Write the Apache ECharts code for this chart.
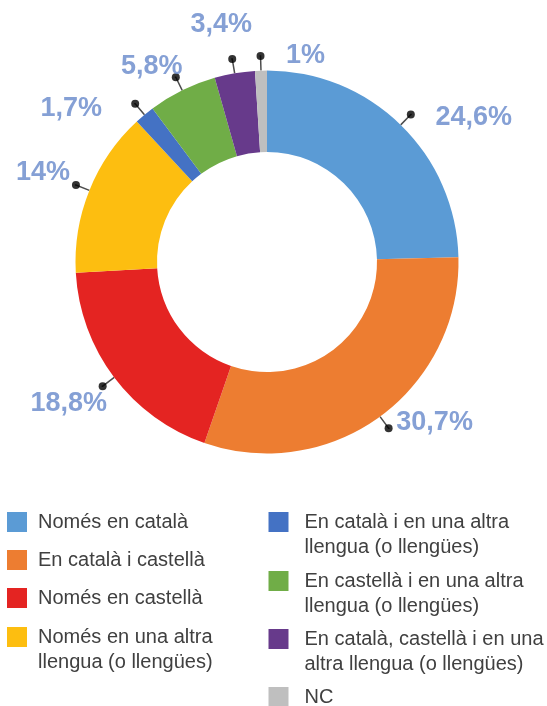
<!DOCTYPE html>
<html>
<head>
<meta charset="utf-8">
<script src="https://cdn.jsdelivr.net/npm/echarts@6/dist/echarts.min.js"></script>
<style>
  html, body { margin: 0; padding: 0; background: #fff; }
  #chart { width: 547px; height: 706px; }
</style>
</head>
<body>
<div id="chart"></div>
<script>
// Language of the answers (percentages, clockwise from 12 o'clock)
const categories = [
  'Només en català',
  'En català i castellà',
  'Només en castellà',
  'Només en una altra llengua (o llengües)',
  'En català i en una altra llengua (o llengües)',
  'En castellà i en una altra llengua (o llengües)',
  'En català, castellà i en una altra llengua (o llengües)',
  'NC'
];
const legendLabels = [
  'Només en català',
  'En català i castellà',
  'Només en castellà',
  'Només en una altra\nllengua (o llengües)',
  'En català i en una altra\nllengua (o llengües)',
  'En castellà i en una altra\nllengua (o llengües)',
  'En català, castellà i en una\naltra llengua (o llengües)',
  'NC'
];
const values = [24.6, 30.7, 18.8, 14, 1.7, 5.8, 3.4, 1];
const colors = ['#5B9BD5', '#ED7D31', '#E42422', '#FDBE10', '#4472C4', '#70AD47', '#673A8B', '#BFBFBF'];

// Where each value label sits relative to its leader-line dot
const labelOffsets = [[63, 3], [46, -6], [-34, 17], [-33, -12], [-64, 5], [-24, -11], [-11, -34], [45, -1]];

// Legend layout: two columns of swatches
const legendColumnX = [7, 268.5];
const legendSwatchTops = [512, 550, 588, 627, 512, 571, 629, 687];

const CENTER = [267, 262];
const OUTER_R = 191.5;
const DOT_R = 206;

const fmt = v => String(v).replace('.', ',') + '%';

// Angle (in percent of the full turn) of each slice's midpoint
const total = values.reduce((a, b) => a + b, 0);
let acc = 0;
const midPoints = values.map(v => {
  const m = (acc + v / 2) / total * 100;
  acc += v;
  return m;
});

const LINE_H = 25;
const legends = categories.map((name, i) => {
  const twoLines = legendLabels[i].indexOf('\n') >= 0;
  const col = i < 4 ? 0 : 1;
  const padLeft = col === 0 ? 6 : 11;
  // a blank leading line keeps the first text line level with the swatch
  const text = twoLines ? ' \n' + legendLabels[i] : legendLabels[i];
  return {
    orient: 'vertical',
    left: legendColumnX[col],
    top: legendSwatchTops[i] - (twoLines ? (LINE_H * 3 - 20) / 2 : (LINE_H - 20) / 2),
    padding: 0,
    itemWidth: 20,
    itemHeight: 20,
    icon: 'rect',
    selectedMode: false,
    formatter: () => text,
    textStyle: {
      fontFamily: 'Liberation Sans, Arial, sans-serif',
      fontSize: 20,
      color: '#404040',
      lineHeight: LINE_H,
      padding: [0, 0, 0, padLeft]
    },
    data: [{ name: name, icon: 'rect' }]
  };
});

const chart = echarts.init(document.getElementById('chart'), null, { renderer: 'canvas' });
chart.setOption({
  animation: false,
  backgroundColor: '#ffffff',
  color: colors,
  legend: legends,
  polar: { center: CENTER, radius: DOT_R },
  angleAxis: { type: 'value', min: 0, max: 100, startAngle: 90, clockwise: true, show: false },
  radiusAxis: { type: 'value', min: 0, max: 1, show: false },
  series: [
    {
      type: 'pie',
      center: CENTER,
      radius: [110, OUTER_R],
      startAngle: 90,
      clockwise: true,
      avoidLabelOverlap: false,
      silent: true,
      itemStyle: { borderWidth: 0 },
      label: {
        show: true,
        position: 'outside',
        formatter: ' ',
        color: 'rgba(0,0,0,0)',
        fontSize: 1
      },
      labelLine: {
        show: true,
        length: DOT_R - OUTER_R,
        length2: 1,
        smooth: false,
        lineStyle: { color: '#4d4d4d', width: 1.5 }
      },
      emphasis: { disabled: true },
      data: categories.map((name, i) => ({ name: name, value: values[i] }))
    },
    {
      type: 'scatter',
      coordinateSystem: 'polar',
      silent: true,
      z: 5,
      symbol: 'circle',
      symbolSize: 8,
      itemStyle: { color: '#000000' },
      label: {
        show: true,
        position: 'inside',
        fontFamily: 'Liberation Sans, Arial, sans-serif',
        fontWeight: 'bold',
        fontSize: 27,
        color: '#6688CB',
        formatter: p => fmt(values[p.dataIndex])
      },
      data: midPoints.map((m, i) => ({
        value: [1, m],
        label: { offset: labelOffsets[i] }
      }))
    }
  ]
});
</script>
</body>
</html>
